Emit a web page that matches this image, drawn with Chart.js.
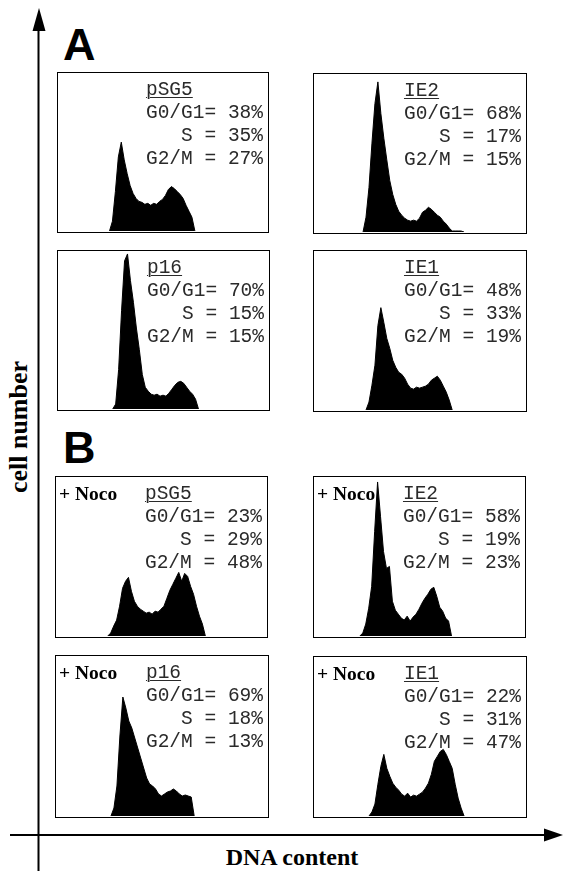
<!DOCTYPE html>
<html>
<head>
<meta charset="utf-8">
<script src="https://cdn.jsdelivr.net/npm/chart.js@4.4.1/dist/chart.umd.min.js"></script>
<style>
  html, body { margin:0; padding:0; background:#fff; }
  body { width:563px; height:871px; position:relative; overflow:hidden; }
  .box { position:absolute; border:1.5px solid #000; box-sizing:border-box; background:#fff; }
  .box canvas { position:absolute; left:0; top:0; }
  .stats { position:absolute; font-family:"Liberation Mono", "DejaVu Sans Mono", monospace; font-size:19.5px; line-height:23px; color:#2a2a2a; white-space:pre; }
  .stats .nm { text-decoration:underline; text-underline-offset:2px; text-decoration-thickness:1px; }
  .noco { position:absolute; font-family:"Liberation Serif", serif; font-weight:bold; font-size:19.5px; line-height:23px; color:#000; white-space:pre; }
  svg.ov { position:absolute; left:0; top:0; }
</style>
</head>
<body>
<svg class="ov" width="563" height="871" xmlns="http://www.w3.org/2000/svg">
  <line x1="38.5" y1="26" x2="38.5" y2="871" stroke="#000" stroke-width="2"/>
  <polygon points="39,8 32.5,31 45.5,31" fill="#000"/>
  <line x1="10" y1="835" x2="548" y2="835" stroke="#000" stroke-width="2"/>
  <polygon points="563,835 544,828.5 544,841.5" fill="#000"/>
  <text x="63" y="60" font-family="Liberation Sans, Arial, sans-serif" font-weight="bold" font-size="45">A</text>
  <text x="63" y="463" font-family="Liberation Sans, Arial, sans-serif" font-weight="bold" font-size="45">B</text>
  <text x="292" y="865" text-anchor="middle" font-family="Liberation Serif, serif" font-weight="bold" font-size="24">DNA content</text>
  <text transform="translate(27,427) rotate(-90)" text-anchor="middle" font-family="Liberation Serif, serif" font-weight="bold" font-size="26">cell number</text>
</svg>
<div id="panels"></div>
<script>
// ---- data: DNA histograms (cell counts per DNA-content channel) ----
const channelCount = 71;
const panelNames   = ["pSG5", "IE2", "p16", "IE1", "pSG5", "IE2", "p16", "IE1"];
const nocodazole   = [false, false, false, false, true, true, true, true];
const g0g1Percent  = [38, 68, 70, 48, 23, 58, 69, 22];
const sPercent     = [35, 17, 15, 33, 29, 19, 18, 31];
const g2mPercent   = [27, 15, 15, 19, 48, 23, 13, 47];

const pSG5_A_start = 17;
const pSG5_A = [0,10,40,75,90,72,58,46,38,33,30,29,27,28,26,28,27,30,32,36,42,45,43,40,37,33,26,20,14,0];
const IE2_A_start = 16;
const IE2_A = [0,15,45,90,130,152,120,95,73,52,38,28,21,17,14,12,11,12,11,14,20,22,25,23,20,17,15,11,8,4,1,1,1,1,0];
const p16_A_start = 18;
const p16_A = [0,5,40,100,150,157,130,108,82,60,35,22,18,15,14,15,13,14,13,16,20,24,27,28,26,22,18,15,10,0];
const IE1_A_start = 17;
const IE1_A = [0,8,25,45,85,103,88,72,62,50,43,38,36,32,26,22,21,23,22,23,24,26,30,32,34,30,24,18,10,0];
const pSG5_B_start = 17;
const pSG5_B = [0,3,10,16,30,48,55,59,45,35,30,27,25,23,24,22,25,24,27,30,38,46,52,58,64,55,63,60,50,42,30,20,12,0];
const IE2_B_start = 15;
const IE2_B = [0,3,12,28,50,105,155,120,85,68,70,35,26,22,18,16,20,15,19,22,27,33,38,42,47,49,40,29,25,18,15,0];
const p16_B_start = 18;
const p16_B = [0,8,30,80,119,108,95,88,78,68,58,48,38,32,30,27,22,20,22,24,25,27,25,22,20,21,20,19,0];
const IE1_B_start = 18;
const IE1_B = [0,4,12,32,50,62,48,40,33,29,26,22,20,23,19,21,20,22,24,28,33,42,55,60,65,67,62,55,48,32,18,8,0];

const countMax = 160;

// ---- layout (positions only) ----
const layout = [
  {l:57,  t:72,  w:212, h:161},
  {l:313, t:73,  w:214, h:161},
  {l:57,  t:250, w:213, h:161},
  {l:313, t:250, w:214, h:162},
  {l:55,  t:476, w:213, h:162},
  {l:313, t:476, w:213, h:162},
  {l:55,  t:655, w:214, h:163},
  {l:313, t:656, w:214, h:162}
];

const series = [
  [pSG5_A_start, pSG5_A], [IE2_A_start, IE2_A], [p16_A_start, p16_A], [IE1_A_start, IE1_A],
  [pSG5_B_start, pSG5_B], [IE2_B_start, IE2_B], [p16_B_start, p16_B], [IE1_B_start, IE1_B]
];

const channelLabels = Array.from({length: channelCount}, (_, i) => i);

function fullHistogram(start, vals) {
  const arr = new Array(channelCount).fill(null);
  vals.forEach((v, i) => { arr[start + i] = v; });
  return arr;
}

const host = document.getElementById('panels');
layout.forEach((b, k) => {
  const box = document.createElement('div');
  box.className = 'box';
  box.style.left = b.l + 'px'; box.style.top = b.t + 'px';
  box.style.width = b.w + 'px'; box.style.height = b.h + 'px';
  const cv = document.createElement('canvas');
  cv.width = b.w - 3; cv.height = b.h - 3;
  cv.style.width = (b.w - 3) + 'px'; cv.style.height = (b.h - 3) + 'px';
  box.appendChild(cv);

  const st = document.createElement('div');
  st.className = 'stats';
  st.style.right = '5px'; st.style.top = '6px';
  const g1 = 'G0/G1= ' + g0g1Percent[k] + '%';
  const s  = 'S = ' + sPercent[k] + '%';
  const g2 = 'G2/M = ' + g2mPercent[k] + '%';
  st.innerHTML = '<span class="nm">' + panelNames[k] + '</span>\n' + g1 + '\n' +
                 ' '.repeat(g1.length - s.length) + s + '\n' + g2;
  box.appendChild(st);

  if (nocodazole[k]) {
    const n = document.createElement('div');
    n.className = 'noco';
    n.style.left = '3px'; n.style.top = '5px';
    n.textContent = '+ Noco';
    box.appendChild(n);
  }
  host.appendChild(box);

  const [start, vals] = series[k];
  new Chart(cv, {
    type: 'line',
    data: {
      labels: channelLabels,
      datasets: [{
        data: fullHistogram(start, vals),
        backgroundColor: '#000',
        borderColor: '#000',
        borderWidth: 1,
        pointRadius: 0,
        tension: 0,
        fill: 'origin',
        spanGaps: false
      }]
    },
    options: {
      responsive: false,
      animation: false,
      events: [],
      layout: { padding: 0 },
      plugins: { legend: { display: false }, tooltip: { enabled: false } },
      scales: {
        x: { display: false, offset: true },
        y: { display: false, min: 0, max: countMax }
      }
    }
  });
});
</script>
</body>
</html>
